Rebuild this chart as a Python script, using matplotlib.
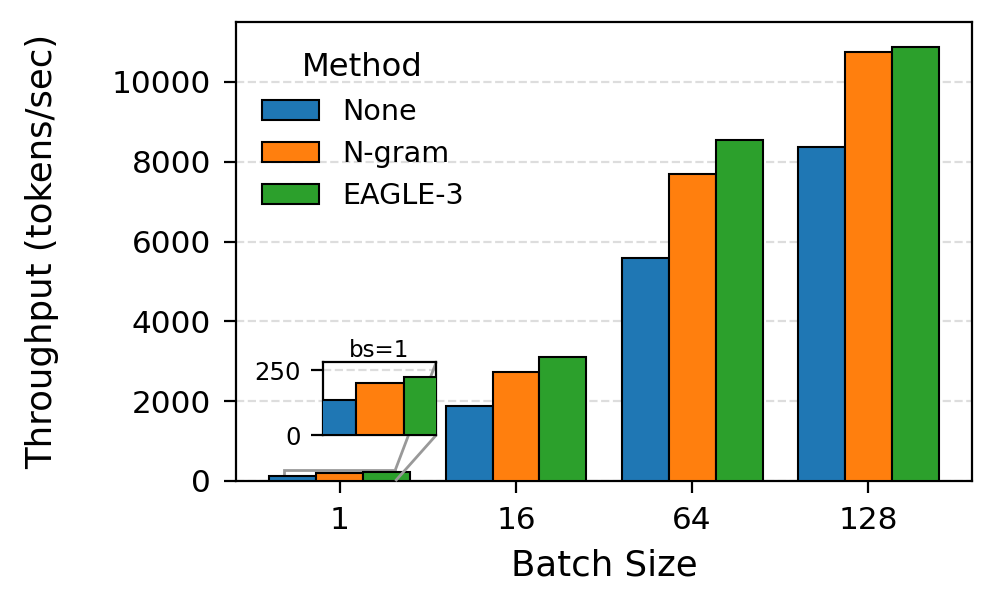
import matplotlib
matplotlib.use("Agg")
import matplotlib.pyplot as plt
import numpy as np
from mpl_toolkits.axes_grid1.inset_locator import mark_inset

batch_sizes = ["1", "16", "64", "128"]
methods = ["None", "N-gram", "EAGLE-3"]
none_vals = [135, 1880, 5590, 8370]
ngram_vals = [200, 2730, 7695, 10750]
eagle_vals = [223, 3108, 8546, 10877]
colors = ["#1f77b4", "#ff7f0e", "#2ca02c"]

series = [none_vals, ngram_vals, eagle_vals]

fig = plt.figure(figsize=(4.99, 3.055), dpi=200)
ax = fig.add_axes([0.2365, 0.2128, 0.7375, 0.7512])

x = np.arange(len(batch_sizes))
w = 0.8 / 3
for i, (vals, m, c) in enumerate(zip(series, methods, colors)):
    ax.bar(x + (i - 1) * w, vals, w, label=m, color=c, edgecolor="black", linewidth=0.75, zorder=3)

ax.set_xlim(-0.59, 3.59)
ax.set_ylim(0, 11500)
ax.set_xticks(x)
ax.set_xticklabels(batch_sizes)
ax.set_yticks([0, 2000, 4000, 6000, 8000, 10000])
ax.tick_params(labelsize=11.2, length=4.3, pad=4.6)
ax.yaxis.grid(True, linestyle="--", color="#dddddd", linewidth=0.8, zorder=0)
ax.set_axisbelow(True)
ax.set_xlabel("Batch Size", fontsize=12.8, labelpad=5)
ax.set_ylabel("Throughput (tokens/sec)", fontsize=12.8, labelpad=19)
leg = ax.legend(title="Method", loc="upper left", frameon=False, fontsize=10.3,
                title_fontsize=11.6, bbox_to_anchor=(0.0, 0.99))

axins = ax.inset_axes([0.118, 0.100, 0.154, 0.159])
for i, (vals, c) in enumerate(zip(series, colors)):
    axins.bar(x[:1] + (i - 1) * w, vals[:1], w, color=c, edgecolor="black", linewidth=0.75, zorder=3)
axins.set_xlim(-0.315, 0.315)
axins.set_ylim(0, 281)
axins.set_xticks([])
axins.set_yticks([0, 250])
axins.tick_params(labelsize=8.8, length=4.3)
axins.yaxis.grid(True, linestyle="--", color="#dddddd", linewidth=0.8, zorder=0)
axins.set_axisbelow(True)
axins.set_title("bs=1", fontsize=8.3, pad=1.5)
mark_inset(ax, axins, loc1=1, loc2=4, fc="none", ec="0.6", lw=1.0)

fig.savefig("out.png", dpi=200)
